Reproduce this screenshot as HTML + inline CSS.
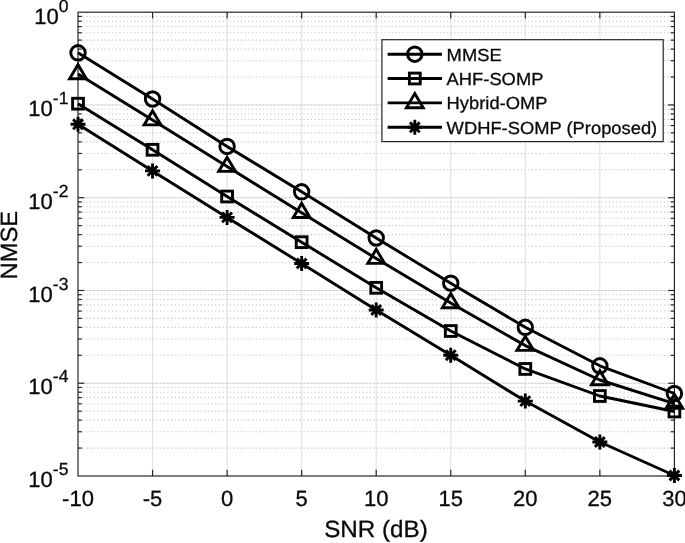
<!DOCTYPE html>
<html><head><meta charset="utf-8"><title>NMSE vs SNR</title>
<style>
html,body{margin:0;padding:0;background:#fff;}
body{width:685px;height:543px;overflow:hidden;}
svg{display:block;}
.t{font-family:"Liberation Sans",Arial,Helvetica,sans-serif;fill:#0a0a0a;stroke:#0a0a0a;text-rendering:geometricPrecision;}
</style></head><body>
<svg width="685" height="543" viewBox="0 0 685 543">
<rect width="685" height="543" fill="#fff"/>
<g stroke="#e2e2e2" stroke-width="1.15" fill="none">
<line x1="78.0" x2="674.4" y1="104.96" y2="104.96"/>
<line x1="78.0" x2="674.4" y1="197.72" y2="197.72"/>
<line x1="78.0" x2="674.4" y1="290.48" y2="290.48"/>
<line x1="78.0" x2="674.4" y1="383.24" y2="383.24"/>
<line x1="152.55" x2="152.55" y1="12.2" y2="476.0"/>
<line x1="227.10" x2="227.10" y1="12.2" y2="476.0"/>
<line x1="301.65" x2="301.65" y1="12.2" y2="476.0"/>
<line x1="376.20" x2="376.20" y1="12.2" y2="476.0"/>
<line x1="450.75" x2="450.75" y1="12.2" y2="476.0"/>
<line x1="525.30" x2="525.30" y1="12.2" y2="476.0"/>
<line x1="599.85" x2="599.85" y1="12.2" y2="476.0"/>
</g>
<g stroke="#c6c6c6" stroke-width="1.1" stroke-dasharray="1.2 2.48" fill="none">
<line x1="79.0" x2="674.4" y1="77.04" y2="77.04"/>
<line x1="79.0" x2="674.4" y1="60.70" y2="60.70"/>
<line x1="79.0" x2="674.4" y1="49.11" y2="49.11"/>
<line x1="79.0" x2="674.4" y1="40.12" y2="40.12"/>
<line x1="79.0" x2="674.4" y1="32.78" y2="32.78"/>
<line x1="79.0" x2="674.4" y1="26.57" y2="26.57"/>
<line x1="79.0" x2="674.4" y1="21.19" y2="21.19"/>
<line x1="79.0" x2="674.4" y1="16.44" y2="16.44"/>
<line x1="79.0" x2="674.4" y1="169.80" y2="169.80"/>
<line x1="79.0" x2="674.4" y1="153.46" y2="153.46"/>
<line x1="79.0" x2="674.4" y1="141.87" y2="141.87"/>
<line x1="79.0" x2="674.4" y1="132.88" y2="132.88"/>
<line x1="79.0" x2="674.4" y1="125.54" y2="125.54"/>
<line x1="79.0" x2="674.4" y1="119.33" y2="119.33"/>
<line x1="79.0" x2="674.4" y1="113.95" y2="113.95"/>
<line x1="79.0" x2="674.4" y1="109.20" y2="109.20"/>
<line x1="79.0" x2="674.4" y1="104.96" y2="104.96"/>
<line x1="79.0" x2="674.4" y1="262.56" y2="262.56"/>
<line x1="79.0" x2="674.4" y1="246.22" y2="246.22"/>
<line x1="79.0" x2="674.4" y1="234.63" y2="234.63"/>
<line x1="79.0" x2="674.4" y1="225.64" y2="225.64"/>
<line x1="79.0" x2="674.4" y1="218.30" y2="218.30"/>
<line x1="79.0" x2="674.4" y1="212.09" y2="212.09"/>
<line x1="79.0" x2="674.4" y1="206.71" y2="206.71"/>
<line x1="79.0" x2="674.4" y1="201.96" y2="201.96"/>
<line x1="79.0" x2="674.4" y1="197.72" y2="197.72"/>
<line x1="79.0" x2="674.4" y1="355.32" y2="355.32"/>
<line x1="79.0" x2="674.4" y1="338.98" y2="338.98"/>
<line x1="79.0" x2="674.4" y1="327.39" y2="327.39"/>
<line x1="79.0" x2="674.4" y1="318.40" y2="318.40"/>
<line x1="79.0" x2="674.4" y1="311.06" y2="311.06"/>
<line x1="79.0" x2="674.4" y1="304.85" y2="304.85"/>
<line x1="79.0" x2="674.4" y1="299.47" y2="299.47"/>
<line x1="79.0" x2="674.4" y1="294.72" y2="294.72"/>
<line x1="79.0" x2="674.4" y1="290.48" y2="290.48"/>
<line x1="79.0" x2="674.4" y1="448.08" y2="448.08"/>
<line x1="79.0" x2="674.4" y1="431.74" y2="431.74"/>
<line x1="79.0" x2="674.4" y1="420.15" y2="420.15"/>
<line x1="79.0" x2="674.4" y1="411.16" y2="411.16"/>
<line x1="79.0" x2="674.4" y1="403.82" y2="403.82"/>
<line x1="79.0" x2="674.4" y1="397.61" y2="397.61"/>
<line x1="79.0" x2="674.4" y1="392.23" y2="392.23"/>
<line x1="79.0" x2="674.4" y1="387.48" y2="387.48"/>
<line x1="79.0" x2="674.4" y1="383.24" y2="383.24"/>
</g>
<rect x="78.0" y="12.2" width="596.4" height="463.8" fill="none" stroke="#262626" stroke-width="1.2"/>
<g stroke="#262626" stroke-width="1.2" fill="none">
<line x1="152.55" x2="152.55" y1="476.0" y2="469.7"/>
<line x1="152.55" x2="152.55" y1="12.2" y2="18.5"/>
<line x1="227.10" x2="227.10" y1="476.0" y2="469.7"/>
<line x1="227.10" x2="227.10" y1="12.2" y2="18.5"/>
<line x1="301.65" x2="301.65" y1="476.0" y2="469.7"/>
<line x1="301.65" x2="301.65" y1="12.2" y2="18.5"/>
<line x1="376.20" x2="376.20" y1="476.0" y2="469.7"/>
<line x1="376.20" x2="376.20" y1="12.2" y2="18.5"/>
<line x1="450.75" x2="450.75" y1="476.0" y2="469.7"/>
<line x1="450.75" x2="450.75" y1="12.2" y2="18.5"/>
<line x1="525.30" x2="525.30" y1="476.0" y2="469.7"/>
<line x1="525.30" x2="525.30" y1="12.2" y2="18.5"/>
<line x1="599.85" x2="599.85" y1="476.0" y2="469.7"/>
<line x1="599.85" x2="599.85" y1="12.2" y2="18.5"/>
<line x1="78.0" x2="84.3" y1="104.96" y2="104.96"/>
<line x1="674.4" x2="668.1" y1="104.96" y2="104.96"/>
<line x1="78.0" x2="84.3" y1="197.72" y2="197.72"/>
<line x1="674.4" x2="668.1" y1="197.72" y2="197.72"/>
<line x1="78.0" x2="84.3" y1="290.48" y2="290.48"/>
<line x1="674.4" x2="668.1" y1="290.48" y2="290.48"/>
<line x1="78.0" x2="84.3" y1="383.24" y2="383.24"/>
<line x1="674.4" x2="668.1" y1="383.24" y2="383.24"/>
<line x1="78.0" x2="81.8" y1="77.04" y2="77.04"/>
<line x1="674.4" x2="670.6" y1="77.04" y2="77.04"/>
<line x1="78.0" x2="81.8" y1="60.70" y2="60.70"/>
<line x1="674.4" x2="670.6" y1="60.70" y2="60.70"/>
<line x1="78.0" x2="81.8" y1="49.11" y2="49.11"/>
<line x1="674.4" x2="670.6" y1="49.11" y2="49.11"/>
<line x1="78.0" x2="81.8" y1="40.12" y2="40.12"/>
<line x1="674.4" x2="670.6" y1="40.12" y2="40.12"/>
<line x1="78.0" x2="81.8" y1="32.78" y2="32.78"/>
<line x1="674.4" x2="670.6" y1="32.78" y2="32.78"/>
<line x1="78.0" x2="81.8" y1="26.57" y2="26.57"/>
<line x1="674.4" x2="670.6" y1="26.57" y2="26.57"/>
<line x1="78.0" x2="81.8" y1="21.19" y2="21.19"/>
<line x1="674.4" x2="670.6" y1="21.19" y2="21.19"/>
<line x1="78.0" x2="81.8" y1="16.44" y2="16.44"/>
<line x1="674.4" x2="670.6" y1="16.44" y2="16.44"/>
<line x1="78.0" x2="81.8" y1="169.80" y2="169.80"/>
<line x1="674.4" x2="670.6" y1="169.80" y2="169.80"/>
<line x1="78.0" x2="81.8" y1="153.46" y2="153.46"/>
<line x1="674.4" x2="670.6" y1="153.46" y2="153.46"/>
<line x1="78.0" x2="81.8" y1="141.87" y2="141.87"/>
<line x1="674.4" x2="670.6" y1="141.87" y2="141.87"/>
<line x1="78.0" x2="81.8" y1="132.88" y2="132.88"/>
<line x1="674.4" x2="670.6" y1="132.88" y2="132.88"/>
<line x1="78.0" x2="81.8" y1="125.54" y2="125.54"/>
<line x1="674.4" x2="670.6" y1="125.54" y2="125.54"/>
<line x1="78.0" x2="81.8" y1="119.33" y2="119.33"/>
<line x1="674.4" x2="670.6" y1="119.33" y2="119.33"/>
<line x1="78.0" x2="81.8" y1="113.95" y2="113.95"/>
<line x1="674.4" x2="670.6" y1="113.95" y2="113.95"/>
<line x1="78.0" x2="81.8" y1="109.20" y2="109.20"/>
<line x1="674.4" x2="670.6" y1="109.20" y2="109.20"/>
<line x1="78.0" x2="81.8" y1="262.56" y2="262.56"/>
<line x1="674.4" x2="670.6" y1="262.56" y2="262.56"/>
<line x1="78.0" x2="81.8" y1="246.22" y2="246.22"/>
<line x1="674.4" x2="670.6" y1="246.22" y2="246.22"/>
<line x1="78.0" x2="81.8" y1="234.63" y2="234.63"/>
<line x1="674.4" x2="670.6" y1="234.63" y2="234.63"/>
<line x1="78.0" x2="81.8" y1="225.64" y2="225.64"/>
<line x1="674.4" x2="670.6" y1="225.64" y2="225.64"/>
<line x1="78.0" x2="81.8" y1="218.30" y2="218.30"/>
<line x1="674.4" x2="670.6" y1="218.30" y2="218.30"/>
<line x1="78.0" x2="81.8" y1="212.09" y2="212.09"/>
<line x1="674.4" x2="670.6" y1="212.09" y2="212.09"/>
<line x1="78.0" x2="81.8" y1="206.71" y2="206.71"/>
<line x1="674.4" x2="670.6" y1="206.71" y2="206.71"/>
<line x1="78.0" x2="81.8" y1="201.96" y2="201.96"/>
<line x1="674.4" x2="670.6" y1="201.96" y2="201.96"/>
<line x1="78.0" x2="81.8" y1="355.32" y2="355.32"/>
<line x1="674.4" x2="670.6" y1="355.32" y2="355.32"/>
<line x1="78.0" x2="81.8" y1="338.98" y2="338.98"/>
<line x1="674.4" x2="670.6" y1="338.98" y2="338.98"/>
<line x1="78.0" x2="81.8" y1="327.39" y2="327.39"/>
<line x1="674.4" x2="670.6" y1="327.39" y2="327.39"/>
<line x1="78.0" x2="81.8" y1="318.40" y2="318.40"/>
<line x1="674.4" x2="670.6" y1="318.40" y2="318.40"/>
<line x1="78.0" x2="81.8" y1="311.06" y2="311.06"/>
<line x1="674.4" x2="670.6" y1="311.06" y2="311.06"/>
<line x1="78.0" x2="81.8" y1="304.85" y2="304.85"/>
<line x1="674.4" x2="670.6" y1="304.85" y2="304.85"/>
<line x1="78.0" x2="81.8" y1="299.47" y2="299.47"/>
<line x1="674.4" x2="670.6" y1="299.47" y2="299.47"/>
<line x1="78.0" x2="81.8" y1="294.72" y2="294.72"/>
<line x1="674.4" x2="670.6" y1="294.72" y2="294.72"/>
<line x1="78.0" x2="81.8" y1="448.08" y2="448.08"/>
<line x1="674.4" x2="670.6" y1="448.08" y2="448.08"/>
<line x1="78.0" x2="81.8" y1="431.74" y2="431.74"/>
<line x1="674.4" x2="670.6" y1="431.74" y2="431.74"/>
<line x1="78.0" x2="81.8" y1="420.15" y2="420.15"/>
<line x1="674.4" x2="670.6" y1="420.15" y2="420.15"/>
<line x1="78.0" x2="81.8" y1="411.16" y2="411.16"/>
<line x1="674.4" x2="670.6" y1="411.16" y2="411.16"/>
<line x1="78.0" x2="81.8" y1="403.82" y2="403.82"/>
<line x1="674.4" x2="670.6" y1="403.82" y2="403.82"/>
<line x1="78.0" x2="81.8" y1="397.61" y2="397.61"/>
<line x1="674.4" x2="670.6" y1="397.61" y2="397.61"/>
<line x1="78.0" x2="81.8" y1="392.23" y2="392.23"/>
<line x1="674.4" x2="670.6" y1="392.23" y2="392.23"/>
<line x1="78.0" x2="81.8" y1="387.48" y2="387.48"/>
<line x1="674.4" x2="670.6" y1="387.48" y2="387.48"/>
</g>
<polyline points="78.00,52.80 152.55,99.00 227.10,146.45 301.65,191.80 376.20,238.00 450.75,283.20 525.30,327.30 599.85,365.80 674.40,393.50" fill="none" stroke="#000" stroke-width="2.9" stroke-linejoin="round"/>
<circle cx="78.00" cy="52.80" r="7.25" fill="none" stroke="#000" stroke-width="2.9"/>
<circle cx="152.55" cy="99.00" r="7.25" fill="none" stroke="#000" stroke-width="2.9"/>
<circle cx="227.10" cy="146.45" r="7.25" fill="none" stroke="#000" stroke-width="2.9"/>
<circle cx="301.65" cy="191.80" r="7.25" fill="none" stroke="#000" stroke-width="2.9"/>
<circle cx="376.20" cy="238.00" r="7.25" fill="none" stroke="#000" stroke-width="2.9"/>
<circle cx="450.75" cy="283.20" r="7.25" fill="none" stroke="#000" stroke-width="2.9"/>
<circle cx="525.30" cy="327.30" r="7.25" fill="none" stroke="#000" stroke-width="2.9"/>
<circle cx="599.85" cy="365.80" r="7.25" fill="none" stroke="#000" stroke-width="2.9"/>
<circle cx="674.40" cy="393.50" r="7.25" fill="none" stroke="#000" stroke-width="2.9"/>
<polyline points="78.00,103.70 152.55,149.80 227.10,196.50 301.65,242.20 376.20,287.80 450.75,331.00 525.30,368.95 599.85,396.00 674.40,411.50" fill="none" stroke="#000" stroke-width="2.9" stroke-linejoin="round"/>
<rect x="72.60" y="98.30" width="10.8" height="10.8" fill="none" stroke="#000" stroke-width="2.9"/>
<rect x="147.15" y="144.40" width="10.8" height="10.8" fill="none" stroke="#000" stroke-width="2.9"/>
<rect x="221.70" y="191.10" width="10.8" height="10.8" fill="none" stroke="#000" stroke-width="2.9"/>
<rect x="296.25" y="236.80" width="10.8" height="10.8" fill="none" stroke="#000" stroke-width="2.9"/>
<rect x="370.80" y="282.40" width="10.8" height="10.8" fill="none" stroke="#000" stroke-width="2.9"/>
<rect x="445.35" y="325.60" width="10.8" height="10.8" fill="none" stroke="#000" stroke-width="2.9"/>
<rect x="519.90" y="363.55" width="10.8" height="10.8" fill="none" stroke="#000" stroke-width="2.9"/>
<rect x="594.45" y="390.60" width="10.8" height="10.8" fill="none" stroke="#000" stroke-width="2.9"/>
<rect x="669.00" y="406.10" width="10.8" height="10.8" fill="none" stroke="#000" stroke-width="2.9"/>
<polyline points="78.00,74.00 152.55,120.10 227.10,166.60 301.65,212.70 376.20,258.60 450.75,303.00 525.30,345.60 599.85,380.00 674.40,403.60" fill="none" stroke="#000" stroke-width="2.9" stroke-linejoin="round"/>
<path d="M69.60 78.80L86.40 78.80L78.00 64.70Z" fill="none" stroke="#000" stroke-width="2.9" stroke-linejoin="miter"/>
<path d="M144.15 124.90L160.95 124.90L152.55 110.80Z" fill="none" stroke="#000" stroke-width="2.9" stroke-linejoin="miter"/>
<path d="M218.70 171.40L235.50 171.40L227.10 157.30Z" fill="none" stroke="#000" stroke-width="2.9" stroke-linejoin="miter"/>
<path d="M293.25 217.50L310.05 217.50L301.65 203.40Z" fill="none" stroke="#000" stroke-width="2.9" stroke-linejoin="miter"/>
<path d="M367.80 263.40L384.60 263.40L376.20 249.30Z" fill="none" stroke="#000" stroke-width="2.9" stroke-linejoin="miter"/>
<path d="M442.35 307.80L459.15 307.80L450.75 293.70Z" fill="none" stroke="#000" stroke-width="2.9" stroke-linejoin="miter"/>
<path d="M516.90 350.40L533.70 350.40L525.30 336.30Z" fill="none" stroke="#000" stroke-width="2.9" stroke-linejoin="miter"/>
<path d="M591.45 384.80L608.25 384.80L599.85 370.70Z" fill="none" stroke="#000" stroke-width="2.9" stroke-linejoin="miter"/>
<path d="M666.00 408.40L682.80 408.40L674.40 394.30Z" fill="none" stroke="#000" stroke-width="2.9" stroke-linejoin="miter"/>
<polyline points="78.00,124.30 152.55,170.90 227.10,217.40 301.65,263.50 376.20,310.00 450.75,355.20 525.30,401.10 599.85,442.00 674.40,475.50" fill="none" stroke="#000" stroke-width="2.9" stroke-linejoin="round"/>
<path d="M70.50 124.30H85.50M78.00 116.80V131.80M73.10 119.40L82.90 129.20M73.10 129.20L82.90 119.40" fill="none" stroke="#000" stroke-width="2.9"/>
<path d="M145.05 170.90H160.05M152.55 163.40V178.40M147.65 166.00L157.45 175.80M147.65 175.80L157.45 166.00" fill="none" stroke="#000" stroke-width="2.9"/>
<path d="M219.60 217.40H234.60M227.10 209.90V224.90M222.20 212.50L232.00 222.30M222.20 222.30L232.00 212.50" fill="none" stroke="#000" stroke-width="2.9"/>
<path d="M294.15 263.50H309.15M301.65 256.00V271.00M296.75 258.60L306.55 268.40M296.75 268.40L306.55 258.60" fill="none" stroke="#000" stroke-width="2.9"/>
<path d="M368.70 310.00H383.70M376.20 302.50V317.50M371.30 305.10L381.10 314.90M371.30 314.90L381.10 305.10" fill="none" stroke="#000" stroke-width="2.9"/>
<path d="M443.25 355.20H458.25M450.75 347.70V362.70M445.85 350.30L455.65 360.10M445.85 360.10L455.65 350.30" fill="none" stroke="#000" stroke-width="2.9"/>
<path d="M517.80 401.10H532.80M525.30 393.60V408.60M520.40 396.20L530.20 406.00M520.40 406.00L530.20 396.20" fill="none" stroke="#000" stroke-width="2.9"/>
<path d="M592.35 442.00H607.35M599.85 434.50V449.50M594.95 437.10L604.75 446.90M594.95 446.90L604.75 437.10" fill="none" stroke="#000" stroke-width="2.9"/>
<path d="M666.90 475.50H681.90M674.40 468.00V483.00M669.50 470.60L679.30 480.40M669.50 480.40L679.30 470.60" fill="none" stroke="#000" stroke-width="2.9"/>
<rect x="381.9" y="39.7" width="281.30000000000007" height="101.89999999999999" fill="#fff" stroke="#262626" stroke-width="1.2"/>
<line x1="387.6" x2="441.9" y1="54.2" y2="54.2" stroke="#000" stroke-width="2.9"/>
<circle cx="414.80" cy="54.20" r="7.25" fill="none" stroke="#000" stroke-width="2.9"/>
<text transform="translate(446.60,60.60) scale(1.048,1)" font-size="17.5" stroke-width="0.3" class="t">MMSE</text>
<line x1="387.6" x2="441.9" y1="78.5" y2="78.5" stroke="#000" stroke-width="2.9"/>
<rect x="409.40" y="73.10" width="10.8" height="10.8" fill="none" stroke="#000" stroke-width="2.9"/>
<text transform="translate(446.60,84.90) scale(1.048,1)" font-size="17.5" stroke-width="0.3" class="t">AHF-SOMP</text>
<line x1="387.6" x2="441.9" y1="102.9" y2="102.9" stroke="#000" stroke-width="2.9"/>
<path d="M406.40 107.70L423.20 107.70L414.80 93.60Z" fill="none" stroke="#000" stroke-width="2.9" stroke-linejoin="miter"/>
<text transform="translate(446.60,109.30) scale(1.048,1)" font-size="17.5" stroke-width="0.3" class="t">Hybrid-OMP</text>
<line x1="387.6" x2="441.9" y1="127.3" y2="127.3" stroke="#000" stroke-width="2.9"/>
<path d="M407.30 127.30H422.30M414.80 119.80V134.80M409.90 122.40L419.70 132.20M409.90 132.20L419.70 122.40" fill="none" stroke="#000" stroke-width="2.9"/>
<text transform="translate(446.60,133.70) scale(1.048,1)" font-size="17.5" stroke-width="0.3" class="t">WDHF-SOMP (Proposed)</text>
<text transform="translate(78.00,506.00)" font-size="22" stroke-width="0.3" text-anchor="middle" class="t">-10</text>
<text transform="translate(152.55,506.00)" font-size="22" stroke-width="0.3" text-anchor="middle" class="t">-5</text>
<text transform="translate(227.10,506.00)" font-size="22" stroke-width="0.3" text-anchor="middle" class="t">0</text>
<text transform="translate(301.65,506.00)" font-size="22" stroke-width="0.3" text-anchor="middle" class="t">5</text>
<text transform="translate(376.20,506.00)" font-size="22" stroke-width="0.3" text-anchor="middle" class="t">10</text>
<text transform="translate(450.75,506.00)" font-size="22" stroke-width="0.3" text-anchor="middle" class="t">15</text>
<text transform="translate(525.30,506.00)" font-size="22" stroke-width="0.3" text-anchor="middle" class="t">20</text>
<text transform="translate(599.85,506.00)" font-size="22" stroke-width="0.3" text-anchor="middle" class="t">25</text>
<text transform="translate(674.40,506.00)" font-size="22" stroke-width="0.3" text-anchor="middle" class="t">30</text>
<text transform="translate(68.40,23.80)" font-size="22" stroke-width="0.3" text-anchor="end" class="t">10<tspan font-size="17.5" dy="-12">0</tspan></text>
<text transform="translate(68.40,116.42)" font-size="22" stroke-width="0.3" text-anchor="end" class="t">10<tspan font-size="17.5" dy="-12">-1</tspan></text>
<text transform="translate(68.40,209.04)" font-size="22" stroke-width="0.3" text-anchor="end" class="t">10<tspan font-size="17.5" dy="-12">-2</tspan></text>
<text transform="translate(68.40,301.66)" font-size="22" stroke-width="0.3" text-anchor="end" class="t">10<tspan font-size="17.5" dy="-12">-3</tspan></text>
<text transform="translate(68.40,394.28)" font-size="22" stroke-width="0.3" text-anchor="end" class="t">10<tspan font-size="17.5" dy="-12">-4</tspan></text>
<text transform="translate(68.40,486.90)" font-size="22" stroke-width="0.3" text-anchor="end" class="t">10<tspan font-size="17.5" dy="-12">-5</tspan></text>
<text transform="translate(376.00,537.30) scale(1.03,1)" font-size="23.5" stroke-width="0.3" text-anchor="middle" class="t">SNR (dB)</text>
<text transform="translate(17.40,245.10) rotate(-90) scale(1.01,1)" font-size="23.5" stroke-width="0.3" text-anchor="middle" class="t">NMSE</text>
</svg>
</body></html>
